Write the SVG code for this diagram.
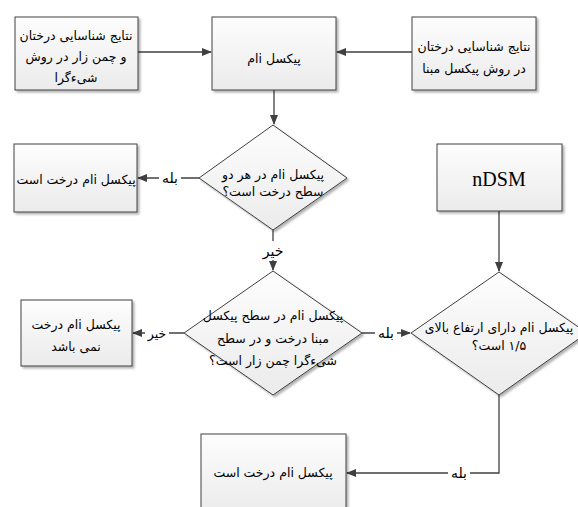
<svg xmlns="http://www.w3.org/2000/svg" width="578" height="507" viewBox="0 0 578 507">
<style>
.box{fill:url(#g);stroke:#404040;stroke-width:1;filter:url(#sh)}
.dia{fill:url(#g);stroke:#404040;stroke-width:1;filter:url(#sh)}
.t{font-family:"DejaVu Sans",sans-serif;font-size:12.5px;fill:#000;text-anchor:middle;direction:rtl;unicode-bidi:embed}
.l{font-size:14px}
.c{fill:none;stroke:#404040;stroke-width:1.3}
.lb{fill:#fff}
</style>
<defs>
<linearGradient id="g" x1="0" y1="0" x2="0" y2="1">
<stop offset="0" stop-color="#fdfdfd"/>
<stop offset="1" stop-color="#ebebeb"/>
</linearGradient>
<filter id="sh" x="-10%" y="-10%" width="130%" height="130%">
<feDropShadow dx="2" dy="2" stdDeviation="1.2" flood-color="#000" flood-opacity="0.3"/>
</filter>
<marker id="a" markerWidth="10" markerHeight="10" refX="9" refY="4" orient="auto" markerUnits="userSpaceOnUse">
<path d="M0,0 L10,4 L0,8 Z" fill="#404040"/>
</marker>
</defs>

<g id="connectors">
<line class="c" x1="138" y1="52" x2="211" y2="52" marker-end="url(#a)"/>
<line class="c" x1="412" y1="52" x2="337" y2="52" marker-end="url(#a)"/>
<line class="c" x1="274" y1="90" x2="274" y2="124" marker-end="url(#a)"/>
<line class="c" x1="199" y1="178" x2="138" y2="178" marker-end="url(#a)"/>
<line class="c" x1="273" y1="230" x2="273" y2="270" marker-end="url(#a)"/>
<line class="c" x1="184" y1="333" x2="133" y2="333" marker-end="url(#a)"/>
<line class="c" x1="362" y1="333" x2="410" y2="333" marker-end="url(#a)"/>
<line class="c" x1="499" y1="211" x2="499" y2="271" marker-end="url(#a)"/>
<polyline class="c" points="499,395 499,473 347,473" marker-end="url(#a)"/>
<rect class="lb" x="159" y="169" width="22" height="17"/>
<text class="t l" x="170" y="183">بله</text>
<rect class="lb" x="261" y="241" width="24" height="19"/>
<text class="t l" x="273" y="256">خیر</text>
<rect class="lb" x="145" y="325" width="24" height="17"/>
<text class="t" x="157" y="338">خیر</text>
<rect class="lb" x="375" y="325" width="22" height="17"/>
<text class="t l" x="386" y="338">بله</text>
<rect class="lb" x="448" y="465" width="22" height="17"/>
<text class="t l" x="459" y="478">بله</text>
</g>

<g id="n1">
<rect class="box" x="15" y="17" width="123" height="73"/>
<text class="t" x="76" y="40">نتایج شناسایی درختان</text>
<text class="t" x="76" y="61">و چمن زار در روش</text>
<text class="t" x="76" y="82">شیءگرا</text>
</g>
<g id="n2">
<rect class="box" x="212" y="17" width="124" height="73"/>
<text class="t" x="274" y="63">پیکسل iام</text>
</g>
<g id="n3">
<rect class="box" x="412" y="17" width="124" height="73"/>
<text class="t" x="474" y="51">نتایج شناسایی درختان</text>
<text class="t" x="474" y="73">در روش پیکسل مبنا</text>
</g>
<g id="d1">
<polygon class="dia" points="273,125 347,178 273,230 199,178"/>
<text class="t" x="273" y="179">پیکسل iام در هر دو</text>
<text class="t" x="273" y="196">سطح درخت است؟</text>
</g>
<g id="n4">
<rect class="box" x="14" y="144" width="123" height="68"/>
<text class="t" x="76" y="184">پیکسل iام درخت است</text>
</g>
<g id="nDSM">
<rect class="box" x="437" y="144" width="125" height="67"/>
<text x="499" y="186" font-family="Liberation Serif, serif" font-size="20" text-anchor="middle">nDSM</text>
</g>
<g id="d2">
<polygon class="dia" points="273,271 362,333 273,395 184,333"/>
<text class="t" x="273" y="320">پیکسل iام در سطح پیکسل</text>
<text class="t" x="273" y="343">مبنا درخت و در سطح</text>
<text class="t" x="273" y="365">شیءگرا چمن زار است؟</text>
</g>
<g id="n5">
<rect class="box" x="21" y="300" width="111" height="66"/>
<text class="t" x="76" y="329">پیکسل iام درخت</text>
<text class="t" x="76" y="351">نمی باشد</text>
</g>
<g id="d3">
<polygon class="dia" points="499,272 587,333 499,395 411,333"/>
<text class="t" x="499" y="332">پیکسل iام دارای ارتفاع بالای</text>
<text class="t" x="499" y="350">۱/۵ است؟</text>
</g>
<g id="n6">
<rect class="box" x="201" y="434" width="145" height="80"/>
<text class="t" x="273" y="477">پیکسل iام درخت است</text>
</g>
</svg>
